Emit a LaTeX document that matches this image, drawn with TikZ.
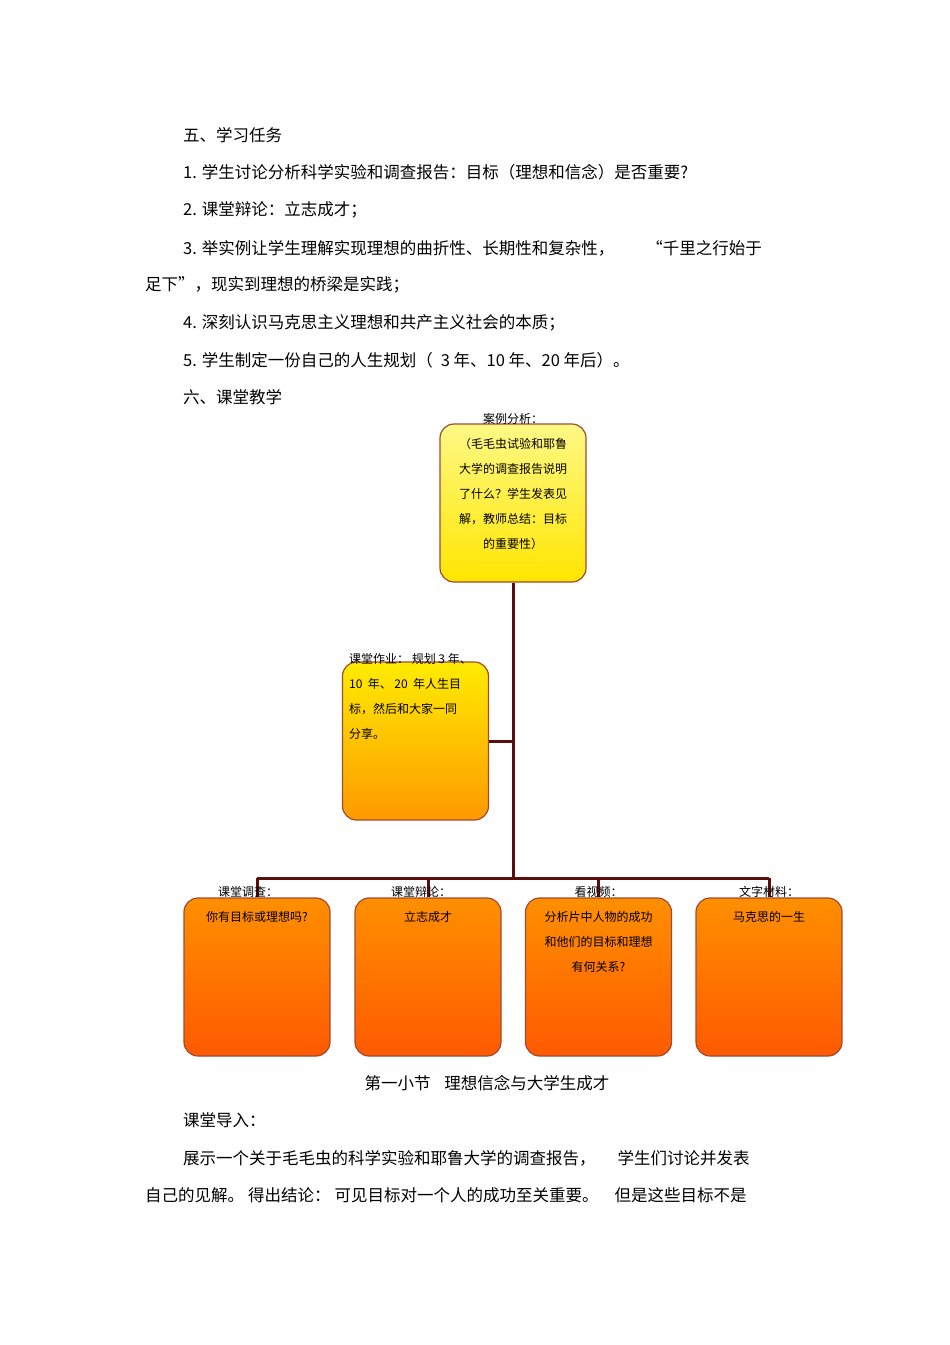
\documentclass[tikz,border=0pt]{standalone}
\usepackage{fontspec}
\setmainfont{Noto Sans CJK SC}
\definecolor{edge}{HTML}{A04A30}
\definecolor{link}{HTML}{5A0E0E}
\tikzset{
 box/.style={draw=edge,line width=1.2pt,rounded corners=14pt,minimum width=146pt,minimum height=158pt,inner sep=0pt},
 ybox/.style={box,top color=yellow!45!white!95!orange,bottom color=yellow!80!orange},
 gbox/.style={box,top color=yellow!85!orange,bottom color=orange!80!yellow},
 obox/.style={box,top color=orange!75!yellow!90!red,bottom color=orange!70!red},
 btxt/.style={anchor=north,align=center,font=\fontsize{12}{25}\selectfont,inner sep=0pt},
 body/.style={anchor=west,font=\fontsize{16.5}{20}\selectfont,inner sep=0pt},
 link/.style={draw=link,line width=3pt}
}
\begin{document}
\begin{tikzpicture}[x=1pt,y=-1pt]
\useasboundingbox[fill=white] (0,0) rectangle (950,1345);
\node[body] (l1) at (183,135) {五、学习任务};
\node[body] (l2) at (183,172) {1. 学生讨论分析科学实验和调查报告：目标（理想和信念）是否重要?};
\node[body] (l3) at (183,210) {2. 课堂辩论：立志成才；};
\node[body] (l4) at (183,248) {3. 举实例让学生理解实现理想的曲折性、长期性和复杂性，\hspace{32pt}“千里之行始于};
\node[body] (l5) at (145,285) {足下”，现实到理想的桥梁是实践；};
\node[body] (l6) at (183,323) {4. 深刻认识马克思主义理想和共产主义社会的本质；};
\node[body] (l7) at (183,360) {5. 学生制定一份自己的人生规划（\hspace{8pt}3 年、10 年、20 年后）。};
\node[body] (l8) at (183,397) {六、课堂教学};

\node[ybox] (top) at (513,503) {};
\node[gbox] (hw) at (415.5,741) {};
\node[obox] (b1) at (257,977) {};
\node[obox] (b2) at (428,977) {};
\node[obox] (b3) at (598.5,977) {};
\node[obox] (b4) at (769,977) {};

\coordinate (j1) at (513,741);
\coordinate (j2) at (513,878);
\coordinate (c1) at (257,878);
\coordinate (c2) at (428,878);
\coordinate (c3) at (598.5,878);
\coordinate (c4) at (769,878);
\draw[link] (top.south) -- (j2);
\draw[link] (hw.east) -- (j1);
\draw[link] (c1) -- (c4);
\draw[link] (c1) -- (b1.north);
\draw[link] (c2) -- (b2.north);
\draw[link] (c3) -- (b3.north);
\draw[link] (c4) -- (b4.north);

\node[btxt] (tt) at ([yshift=10pt]top.north) {案例分析：\\（毛毛虫试验和耶鲁\\大学的调查报告说明\\了什么？学生发表见\\解，教师总结：目标\\的重要性）};
\node[btxt,align=left,anchor=north west] (ht) at ([xshift=7pt,yshift=8pt]hw.north west) {课堂作业：\ 规划 3 年、\\10\ \ 年、\ 20\ \ 年人生目\\标，然后和大家一同\\分享。};
\node[btxt] (t1) at ([yshift=11pt]b1.north) {\hspace{-18pt}课堂调查：\\你有目标或理想吗?};
\node[btxt] (t2) at ([yshift=11pt]b2.north) {\hspace{-14pt}课堂辩论：\\立志成才};
\node[btxt] (t3) at ([yshift=11pt]b3.north) {看视频：\\分析片中人物的成功\\和他们的目标和理想\\有何关系?};
\node[btxt] (t4) at ([yshift=11pt]b4.north) {文字材料：\\马克思的一生};

\node[body,anchor=center] (cap) at (487,1083) {第一小节\hspace{14pt}理想信念与大学生成才};
\node[body] (p1) at (183,1120) {课堂导入：};
\node[body] (p2) at (183,1158) {展示一个关于毛毛虫的科学实验和耶鲁大学的调查报告，\hspace{22pt}学生们讨论并发表};
\node[body] (p3) at (145,1195) {自己的见解。\hspace{4pt}得出结论：\hspace{4pt}可见目标对一个人的成功至关重要。\hspace{16pt}但是这些目标不是};
\end{tikzpicture}
\end{document}
